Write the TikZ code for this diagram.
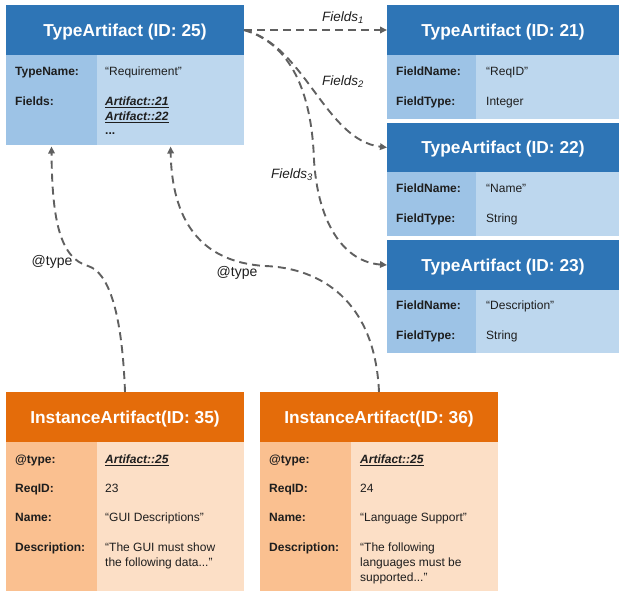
\documentclass[tikz,border=0pt]{standalone}
\usepackage{fontspec}
\setmainfont{Liberation Sans}
\usetikzlibrary{arrows.meta}
\definecolor{hblue}{HTML}{2E75B6}
\definecolor{lblue}{HTML}{9DC3E6}
\definecolor{vblue}{HTML}{BDD7EE}
\definecolor{horange}{HTML}{E46C0A}
\definecolor{lorange}{HTML}{FAC090}
\definecolor{vorange}{HTML}{FCDFC6}
\definecolor{egray}{HTML}{606060}
\definecolor{txt}{HTML}{1E1E1E}
\tikzset{
  hdr/.style={fill=#1, text=white, font=\fontsize{17.3}{20}\selectfont\bfseries,
    minimum height=50pt, inner sep=0pt, outer sep=0pt, text height=12.5pt, text depth=0pt},
  cell/.style={fill=#1, inner sep=0pt, outer sep=0pt, anchor=north west},
  lab/.style={font=\fontsize{12}{14}\selectfont\bfseries, text=txt, anchor=base west, inner sep=0pt},
  val/.style={font=\fontsize{12}{14}\selectfont, text=txt, anchor=base west, inner sep=0pt},
  lnk/.style={font=\fontsize{12}{14}\selectfont\bfseries\itshape, text=txt, anchor=base west, inner sep=0pt},
  edge/.style={draw=egray, line width=1.9pt, dash pattern=on 8pt off 5pt,
    -{Triangle[length=7pt,width=6.5pt]}},
  flab/.style={font=\fontsize{13.5}{16}\selectfont\itshape, text=txt, inner sep=0pt},
  tlab/.style={font=\fontsize{14}{16}\selectfont, text=txt, inner sep=0pt}
}
\begin{document}
\begin{tikzpicture}[x=1pt,y=-1pt]
\useasboundingbox (0,0) rectangle (619,591);
% ---------- TypeArtifact 25
\node[hdr=hblue, minimum width=238pt] (t25h) at (125,30) {TypeArtifact (ID: 25)};
\node[cell=lblue, minimum width=91pt, minimum height=90pt] (t25l) at (6,55) {};
\node[cell=vblue, minimum width=147pt, minimum height=90pt] (t25v) at (97,55) {};
\node[lab] (t25a) at (15,76) {TypeName:};
\node[val] (t25b) at (105,76) {“Requirement”};
\node[lab] (t25c) at (15,105.5) {Fields:};
\node[lnk] (t25d) at (105,105.5) {\underline{Artifact::21}};
\node[lnk] (t25e) at (105,120.5) {\underline{Artifact::22}};
\node[val] (t25f) at (105,134.5) {\textbf{...}};
% ---------- TypeArtifact 21
\node[hdr=hblue, minimum width=232pt] (t21h) at (503,30) {TypeArtifact (ID: 21)};
\node[cell=lblue, minimum width=89pt, minimum height=64pt] (t21l) at (387,55) {};
\node[cell=vblue, minimum width=143pt, minimum height=64pt] (t21v) at (476,55) {};
\node[lab] (t21a) at (396,76) {FieldName:};
\node[val] (t21b) at (486,76) {“ReqID”};
\node[lab] (t21c) at (396,105.5) {FieldType:};
\node[val] (t21d) at (486,105.5) {Integer};
% ---------- TypeArtifact 22
\node[hdr=hblue, minimum width=232pt, minimum height=49pt] (t22h) at (503,147.5) {TypeArtifact (ID: 22)};
\node[cell=lblue, minimum width=89pt, minimum height=64pt] (t22l) at (387,172) {};
\node[cell=vblue, minimum width=143pt, minimum height=64pt] (t22v) at (476,172) {};
\node[lab] (t22a) at (396,192.5) {FieldName:};
\node[val] (t22b) at (486,192.5) {“Name”};
\node[lab] (t22c) at (396,222.5) {FieldType:};
\node[val] (t22d) at (486,222.5) {String};
% ---------- TypeArtifact 23
\node[hdr=hblue, minimum width=232pt] (t23h) at (503,265) {TypeArtifact (ID: 23)};
\node[cell=lblue, minimum width=89pt, minimum height=63pt] (t23l) at (387,290) {};
\node[cell=vblue, minimum width=143pt, minimum height=63pt] (t23v) at (476,290) {};
\node[lab] (t23a) at (396,309.5) {FieldName:};
\node[val] (t23b) at (486,309.5) {“Description”};
\node[lab] (t23c) at (396,339.5) {FieldType:};
\node[val] (t23d) at (486,339.5) {String};
% ---------- InstanceArtifact 35
\node[hdr=horange, minimum width=238pt] (i35h) at (125,417) {InstanceArtifact(ID: 35)};
\node[cell=lorange, minimum width=91pt, minimum height=149pt] (i35l) at (6,442) {};
\node[cell=vorange, minimum width=147pt, minimum height=149pt] (i35v) at (97,442) {};
\node[lab] (i35a) at (15,463.5) {@type:};
\node[lnk] (i35b) at (105,463.5) {\underline{Artifact::25}};
\node[lab] (i35c) at (15,492.5) {ReqID:};
\node[val] (i35d) at (105,492.5) {23};
\node[lab] (i35e) at (15,521.5) {Name:};
\node[val] (i35f) at (105,521.5) {“GUI Descriptions”};
\node[lab] (i35g) at (15,551.5) {Description:};
\node[val] (i35i) at (105,551.5) {“The GUI must show};
\node[val] (i35j) at (105,566.5) {the following data...”};
% ---------- InstanceArtifact 36
\node[hdr=horange, minimum width=238pt] (i36h) at (379,417) {InstanceArtifact(ID: 36)};
\node[cell=lorange, minimum width=91pt, minimum height=149pt] (i36l) at (260,442) {};
\node[cell=vorange, minimum width=147pt, minimum height=149pt] (i36v) at (351,442) {};
\node[lab] (i36a) at (269,463.5) {@type:};
\node[lnk] (i36b) at (360,463.5) {\underline{Artifact::25}};
\node[lab] (i36c) at (269,492.5) {ReqID:};
\node[val] (i36d) at (360,492.5) {24};
\node[lab] (i36e) at (269,521.5) {Name:};
\node[val] (i36f) at (360,521.5) {“Language Support”};
\node[lab] (i36g) at (269,551.5) {Description:};
\node[val] (i36i) at (360,551.5) {“The following};
\node[val] (i36j) at (360,566.5) {languages must be};
\node[val] (i36k) at (360,581.5) {supported...”};
% ---------- connectors
\draw[edge] (t25h.east) -- (t21h.west);
\draw[edge] (t25h.east) .. controls (305,45) and (325,140) .. (t22h.west);
\draw[edge] (t25h.east) .. controls (295,45) and (312,100) .. (314,160)
  .. controls (318,225) and (345,262) .. (t23h.west);
\draw[edge, shorten >=1.5pt] (i35h.north) .. controls (122,310) and (108,272) .. (88,266)
  .. controls (60,258) and (52,220) .. (t25l.south);
\draw[edge, shorten >=1.5pt] (i36h.north) .. controls (375,300) and (320,268) .. (265,266)
  .. controls (200,262) and (172,220) .. (t25v.south);
% ---------- labels
\node[flab] (f1) at (343,18) {Fields\textsubscript{1}};
\node[flab] (f2) at (343,82) {Fields\textsubscript{2}};
\node[flab] (f3) at (292,175) {Fields\textsubscript{3}};
\node[tlab] (ty1) at (52,262) {@type};
\node[tlab] (ty2) at (237,273) {@type};
\end{tikzpicture}
\end{document}
